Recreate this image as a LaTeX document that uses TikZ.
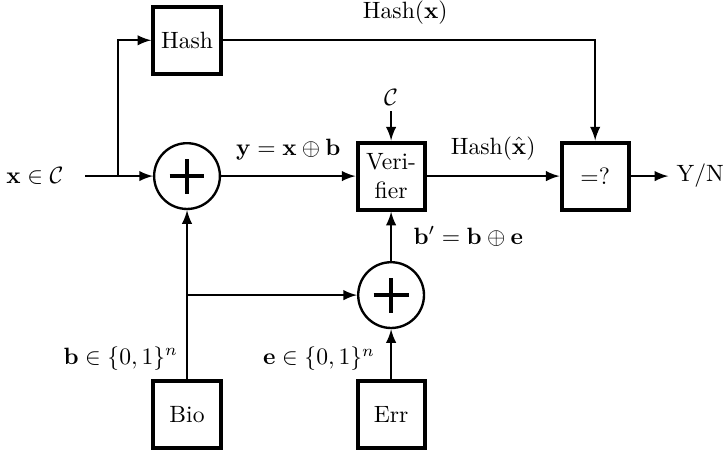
\documentclass[tikz,border=0pt]{standalone}
\usetikzlibrary{arrows.meta}
\begin{document}
\begin{tikzpicture}[>=latex,line width=1pt,
  box/.style={draw,line width=1.7pt,minimum size=1cm,align=center},
  adder/.style={draw,circle,minimum size=0.98cm,inner sep=0pt,
    path picture={\draw[line width=1.7pt]
      ([xshift=-0.26cm]path picture bounding box.center) -- ([xshift=0.26cm]path picture bounding box.center)
      ([yshift=-0.26cm]path picture bounding box.center) -- ([yshift=0.26cm]path picture bounding box.center);}},
  lbl/.style={inner sep=3pt}]
\useasboundingbox (0,0) rectangle (10.80,6.78);
% blocks
\node[box] (hash) at (2.786,6.18) {Hash};
\node[adder] (plusy) at (2.786,4.157) {};
\node[box] (ver) at (5.826,4.157) {Veri-\\fier};
\node[box] (eq) at (8.866,4.157) {$=?$};
\node[adder] (plusb) at (5.826,2.384) {};
\node[box] (bio) at (2.786,0.611) {Bio};
\node[box] (err) at (5.826,0.611) {Err};
% inputs and outputs
\node[lbl] (xin) at (0.52,4.157) {$\mathbf{x}\in\mathcal{C}$};
\coordinate (xstart) at (1.267,4.157);
\coordinate (split) at (1.758,4.157);
\node[lbl,inner sep=2pt] (code) at (5.826,5.334) {$\mathcal{C}$};
\node[lbl] (yn) at (10.43,4.157) {Y/N};
\coordinate (bsplit) at (2.786,2.384);
% connectors
\draw[->] (xstart) -- (plusy);
\draw[->] (split) |- (hash);
\draw[->] (hash) -| node[pos=0.245,above=3pt] {Hash$(\mathbf{x})$} (eq);
\draw[->] (plusy) -- node[midway,above=3pt] {$\mathbf{y}=\mathbf{x}\oplus\mathbf{b}$} (ver);
\draw[->] (code) -- (ver);
\draw[->] (ver) -- node[midway,above=3pt] {Hash$(\hat{\mathbf{x}})$} (eq);
\draw[->] (eq) -- (yn);
\draw[->] (bio) -- node[pos=0.12,left] {$\mathbf{b}\in\{0,1\}^n$} (plusy);
\draw[->] (bsplit) -- (plusb);
\draw[->] (err) -- node[pos=0.4,left,xshift=-3pt] {$\mathbf{e}\in\{0,1\}^n$} (plusb);
\draw[->] (plusb) -- node[midway,right=2mm] {$\mathbf{b}'=\mathbf{b}\oplus\mathbf{e}$} (ver);
\end{tikzpicture}
\end{document}
